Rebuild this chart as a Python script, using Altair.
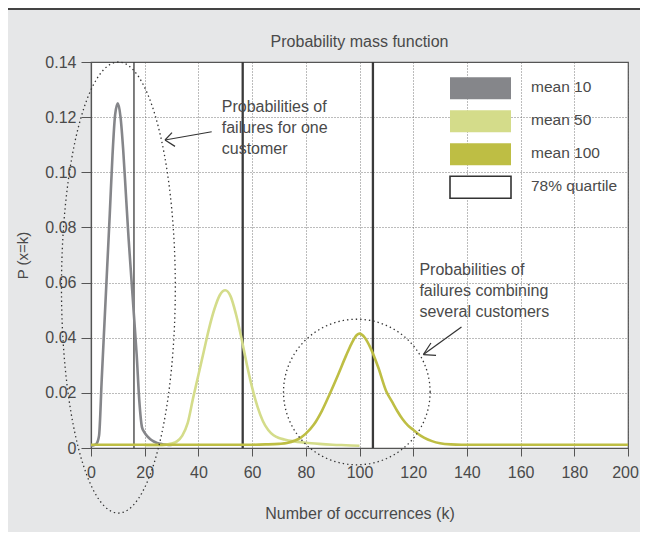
import altair as alt
import numpy as np
import pandas as pd

# ---------------- values ----------------
series_names = ["mean 10", "mean 50", "mean 100"]
series_colors = ["#85868a", "#d4dc8a", "#bebe44"]

k_mean10 = list(range(0, 31))
p_mean10 = [0.0008, 0.0010, 0.0015, 0.0045, 0.0250, 0.0450, 0.0650, 0.0850,
            0.1060, 0.1210, 0.1250, 0.1200, 0.1080, 0.0920, 0.0760, 0.0620,
            0.0480, 0.0340, 0.0170, 0.0075, 0.0055, 0.0042, 0.0033, 0.0026,
            0.0021, 0.0017, 0.0015, 0.0013, 0.0012, 0.0011, 0.0011]

k_mean50 = [20, 25, 28, 30, 32, 34, 36, 38, 40, 42, 44, 46, 48, 50, 52, 54,
            56, 58, 60, 62, 64, 66, 68, 70, 72, 75, 80, 85, 90, 95, 100]
p_mean50 = [0.0010, 0.0010, 0.0012, 0.0016, 0.0024, 0.0045, 0.0090, 0.0180,
            0.0265, 0.0350, 0.0435, 0.0505, 0.0555, 0.0572, 0.0550, 0.0485,
            0.0400, 0.0305, 0.0220, 0.0150, 0.0098, 0.0065, 0.0046, 0.0036,
            0.0031, 0.0025, 0.0019, 0.0015, 0.0012, 0.0010, 0.0008]

k_mean100 = [0, 20, 40, 60, 65, 70, 73, 76, 78, 80, 83, 86, 89, 92, 95, 97,
             99, 100, 102, 104, 107, 110, 112, 114, 116, 118, 120, 122, 124,
             127, 130, 134, 138, 150, 175, 200]
p_mean100 = [0.0012, 0.0012, 0.0012, 0.0012, 0.0013, 0.0015, 0.0018, 0.0027,
             0.0037, 0.0052, 0.0085, 0.0135, 0.0198, 0.0265, 0.0335, 0.0378,
             0.0410, 0.0415, 0.0400, 0.0365, 0.0292, 0.0205, 0.0170, 0.0135,
             0.0105, 0.0082, 0.0066, 0.0050, 0.0038, 0.0025, 0.0017, 0.0013,
             0.0012, 0.0012, 0.0012, 0.0012]

quartile_thin = [16]
quartile_thick = [56.5, 105]

legend_labels = ["mean 10", "mean 50", "mean 100", "78% quartile"]
legend_fills = series_colors + ["#ffffff"]

x_ticks = [0, 20, 40, 60, 80, 100, 120, 140, 160, 180, 200]
y_ticks = [0, 0.02, 0.04, 0.06, 0.08, 0.10, 0.12, 0.14]

chart_title = "Probability mass function"
x_title = "Number of occurrences (k)"
y_title = "P (x=k)"
note_one = ["Probabilities of", "failures for one", "customer"]
note_several = ["Probabilities of", "failures combining", "several customers"]

# annotation geometry (data coordinates)
ellipse_one = (10.2, 0.0582, 21.2, 0.0818)      # centre k, centre p, radius k, radius p
ellipse_several = (99.0, 0.0203, 27.3, 0.0264)
arrow_one = {"k": [44.95, 27.56, 27.56], "p": [0.1147, 0.1117, 0.1117],
             "k2": [27.56, 30.17, 31.28], "p2": [0.1117, 0.1144, 0.1094]}
arrow_several = {"k": [137.98, 123.8, 123.8], "p": [0.0439, 0.0339, 0.0339],
                 "k2": [123.8, 128.5, 126.6], "p2": [0.0339, 0.0336, 0.0381]}
note_one_pos = (48.7, 0.1219)
note_several_pos = (122.3, 0.0628)

# ---------------- chart ----------------
FONT = "Liberation Sans"
TXT = "#4a4a4a"
DARK = "#333333"

xs = alt.Scale(domain=[0, 200], nice=False, zero=False)
ys = alt.Scale(domain=[0, 0.14], nice=False, zero=False)
x_axis = alt.Axis(values=x_ticks, title=x_title, format="d", tickSize=8,
                  labelPadding=8, titlePadding=25, labelOverlap=False,
                  labelFlush=False,
                  labelOffset=alt.condition("datum.value == 200",
                                            alt.value(-3), alt.value(0)))
y_axis = alt.Axis(values=y_ticks, title=y_title, tickSize=10, labelPadding=5,
                  titlePadding=14, titleFontSize=15, labelOverlap=False,
                  labelExpr="datum.value == 0 ? '0' : format(datum.value, '.2f')")


def X(f="k"):
    return alt.X(f"{f}:Q", scale=xs, axis=x_axis)


def Y(f="p"):
    return alt.Y(f"{f}:Q", scale=ys, axis=y_axis)


layers = []

# vertical quartile lines
layers.append(alt.Chart(pd.DataFrame({"k": quartile_thin})).mark_rule(
    color="#3a3a3a", strokeWidth=1.3).encode(x=X()))
layers.append(alt.Chart(pd.DataFrame({"k": quartile_thick})).mark_rule(
    color="#3a3a3a", strokeWidth=2.3).encode(x=X()))

# curves
for ks, ps, col in zip([k_mean10, k_mean50, k_mean100],
                       [p_mean10, p_mean50, p_mean100], series_colors):
    layers.append(alt.Chart(pd.DataFrame({"k": ks, "p": ps})).mark_line(
        color=col, strokeWidth=2.6, interpolate="monotone", clip=True
    ).encode(x=X(), y=Y()))

# dotted ellipses
t = np.linspace(0, 2 * np.pi, 241)
for ck, cp, rk, rp in [ellipse_one, ellipse_several]:
    edf = pd.DataFrame({"k": ck + rk * np.cos(t), "p": cp + rp * np.sin(t),
                        "i": np.arange(len(t))})
    layers.append(alt.Chart(edf).mark_line(
        color=DARK, strokeWidth=1.3, strokeDash=[1.4, 3], clip=False
    ).encode(x=X(), y=Y(), order="i:Q"))

# arrows
for arr in [arrow_one, arrow_several]:
    layers.append(alt.Chart(pd.DataFrame(arr)).mark_rule(
        color=DARK, strokeWidth=1.2).encode(
        x=X(), y=Y(), x2=alt.X2("k2:Q"), y2=alt.Y2("p2:Q")))

# annotation texts
for lines, (tk, tp) in [(note_one, note_one_pos), (note_several, note_several_pos)]:
    layers.append(alt.Chart(pd.DataFrame({"k": [tk], "p": [tp],
                                          "t": ["\n".join(lines)]})).mark_text(
        align="left", baseline="alphabetic", fontSize=16, color=TXT,
        lineHeight=21, lineBreak="\n", font=FONT
    ).encode(x=X(), y=Y(), text="t:N"))

# manual legend
for i, (lab, fill) in enumerate(zip(legend_labels, legend_fills)):
    d = pd.DataFrame({"label": [lab]})
    top = 15.3 + 33 * i
    rect_kw = dict(fill=fill, stroke=DARK if fill == "#ffffff" else fill,
                   strokeWidth=1.6 if fill == "#ffffff" else 0)
    layers.append(alt.Chart(d).mark_rect(**rect_kw).encode(
        x=alt.value(359), x2=alt.value(420),
        y=alt.value(top), y2=alt.value(top + 22)))
    layers.append(alt.Chart(d).mark_text(
        align="left", baseline="middle", fontSize=15.5, color=TXT, font=FONT
    ).encode(x=alt.value(440), y=alt.value(top + 10), text="label:N"))

# title as text mark
layers.append(alt.Chart(pd.DataFrame({"t": [chart_title]})).mark_text(
    align="center", baseline="alphabetic", fontSize=16, color=TXT, font=FONT
).encode(x=alt.value(268.5), y=alt.value(-14.7), text="t:N"))

# dark top frame line
layers.append(alt.Chart(pd.DataFrame({"a": [0]})).mark_rule(
    color="#444444", strokeWidth=2).encode(
    x=alt.value(-83), x2=alt.value(549), y=alt.value(-53)))

chart = alt.layer(*layers).properties(
    width=537, height=386,
    autosize=alt.AutoSizeParams(type="none"),
    padding={"left": 83, "top": 54, "right": 12, "bottom": 84},
    background="#e6e7e8",
).configure(font=FONT).configure_view(
    stroke="#555555", strokeWidth=1.2, fill="white"
).configure_axis(
    domainColor="#555555", domainWidth=1.2, tickColor="#555555", tickWidth=1,
    labelColor=TXT, titleColor=TXT, labelFontSize=16, titleFontSize=16,
    titleFontWeight="normal", labelFont=FONT, titleFont=FONT,
    grid=True, gridColor="#555555", gridDash=[1, 2], gridWidth=0.8,
)

chart.save("out.html", embed_options={"renderer": "svg", "actions": False})
